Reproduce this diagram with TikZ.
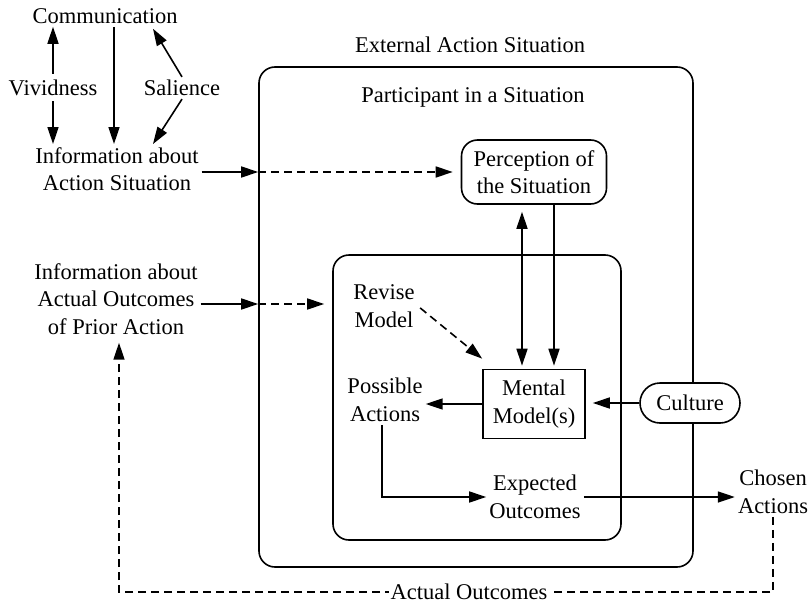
\documentclass[tikz,border=0pt]{standalone}
\usepackage{fontspec}
\setmainfont{Liberation Serif}
\usetikzlibrary{arrows.meta,calc}
\begin{document}
\begin{tikzpicture}[x=1pt,y=-1pt,
  every node/.style={font=\fontsize{22.5}{27.5}\selectfont, align=center, inner sep=3pt},
  line/.style={line width=1.6pt},
  tip/.style={-{Triangle[length=17pt,width=11pt]}},
  arr/.style={line, tip},
  dsh/.style={dash pattern=on 8pt off 5pt},
  box/.style={draw, line width=1.6pt},
]
\useasboundingbox (0,0) rectangle (811,605);

% containers
\node[box, rounded corners=16pt, minimum width=434pt, minimum height=500pt] (outer) at (476,317) {};
\node[box, rounded corners=16pt, minimum width=288pt, minimum height=285pt] (inner) at (477,397.5) {};
\node (extlbl) at (470,45) {External Action Situation};
\node (partlbl) at (473,97) {Participant in a Situation};

% left column
\node (comm) at (105,16) {Communication};
\node (viv) at (53,88) {Vividness};
\node (sal) at (182,88) {Salience};
\node (infoA) at (117,169) {Information about\\Action Situation};
\node (infoB) at (116,299) {Information about\\Actual Outcomes\\of Prior Action};

% inner elements
\node[box, rounded corners=16pt, minimum width=145pt, minimum height=64pt] (perc) at (534,172) {Perception of\\the Situation};
\node[box, minimum width=102pt, minimum height=69pt] (mental) at (534,404) {Mental\\Model(s)};
\node[box, fill=white, rounded corners=20pt, minimum width=100pt, minimum height=40pt] (cult) at (690,403) {Culture};
\node (revise) at (384,306) {Revise\\Model};
\node (poss) at (385,400) {Possible\\Actions};
\node (expected) at (535,497) {Expected\\Outcomes};
\node (chosen) at (773,492) {Chosen\\Actions};

% helper coordinates
\coordinate (rowB) at (0,304);
\coordinate (xA) at (522,0);
\coordinate (xB) at (554,0);
\coordinate (aoc) at (469,592);
\coordinate (cdown) at ($(comm.south)+(9,0)$);
\coordinate (fbtop) at ($(infoB.south)+(3,0)$);

% top-left arrows
\draw[arr, shorten <=3pt] (viv.north) -- (viv.north |- comm.south);
\draw[arr, shorten <=2pt] (viv.south) -- (viv.south |- infoA.north);
\draw[arr] (cdown) -- (cdown |- infoA.north);
\draw[arr] (sal.north) -- ($(comm.south)+(48,2)$);
\draw[arr] (sal.south) -- ($(infoA.north)+(36,0)$);

% information inputs
\draw[arr] (infoA.east |- perc.west) -- (outer.west |- perc.west);
\draw[arr, dsh, shorten >=8pt] (outer.west |- perc.west) -- (perc.west);
\draw[arr] (infoB.east |- rowB) -- (outer.west |- rowB);
\draw[arr, dsh, shorten >=8pt] (outer.west |- rowB) -- (inner.west |- rowB);

% perception <-> mental model
\draw[line, {Triangle[length=17pt,width=11pt]}-{Triangle[length=17pt,width=11pt]}, shorten <=7pt, shorten >=3pt] (perc.south -| xA) -- (mental.north -| xA);
\draw[arr, shorten >=3pt] (perc.south -| xB) -- (mental.north -| xB);

% revise model
\draw[arr, dsh, shorten <=3pt] (revise.east) -- ($(mental.north west)+(0,-10)$);

% culture, possible actions, outcomes
\draw[arr, shorten >=7pt] (cult.west) -- (cult.west -| mental.east);
\draw[arr] (mental.west) -- (mental.west -| poss.east);
\draw[arr] ($(poss.south)+(-3,0)$) |- (expected.west);
\draw[arr] (expected.east) -- (expected.east -| chosen.west);

% feedback loop
\draw[arr, dsh, shorten >=5pt] (chosen.south) -- (chosen.south |- aoc) -- (fbtop |- aoc) -- (fbtop);
\node[fill=white, inner sep=2pt] (ao) at (aoc) {Actual Outcomes};
\end{tikzpicture}
\end{document}
